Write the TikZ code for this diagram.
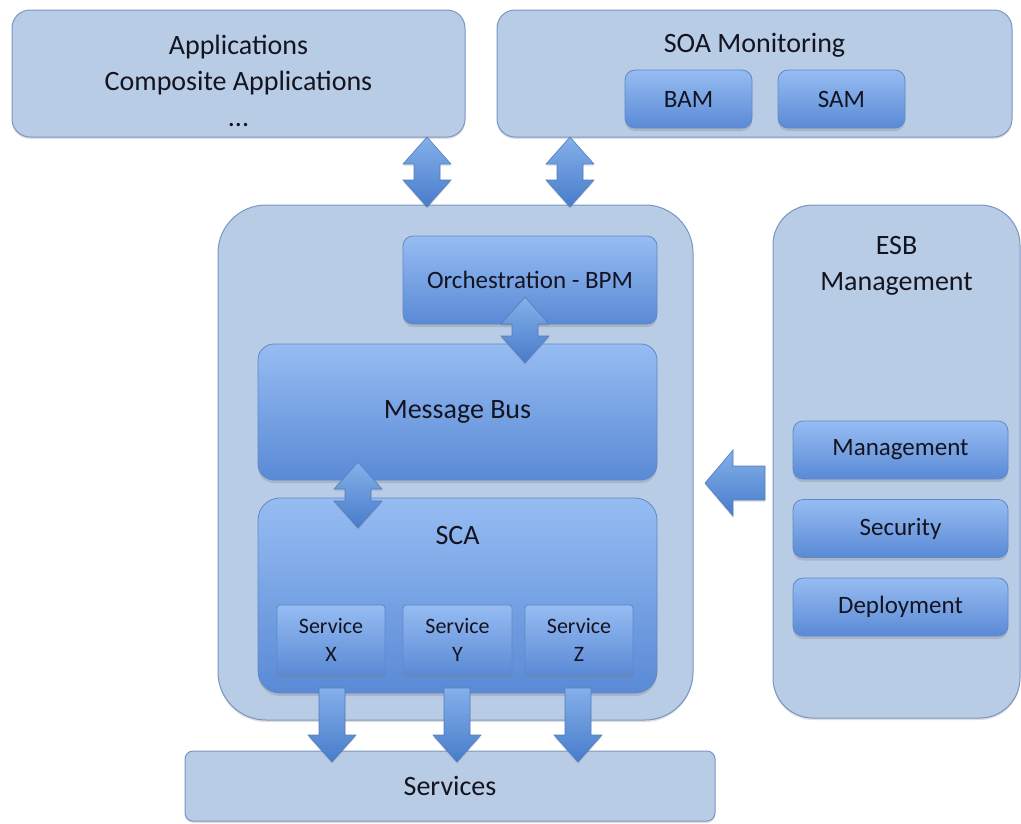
\documentclass[tikz,border=0pt]{standalone}
\usepackage{fontspec}
\setmainfont{Carlito}
\usetikzlibrary{shadows,calc}

\definecolor{PaleFill}{RGB}{184,204,230}
\definecolor{PaleEdge}{RGB}{120,150,196}
\definecolor{DeepTop}{RGB}{150,188,242}
\definecolor{DeepBot}{RGB}{90,138,214}
\definecolor{DeepEdge}{RGB}{96,136,200}
\definecolor{ArrowTop}{RGB}{132,176,234}
\definecolor{ArrowBot}{RGB}{72,124,202}
\definecolor{ArrowEdge}{RGB}{84,124,190}
\definecolor{InkText}{RGB}{20,20,32}

% double block arrow, from top tip to bottom tip
\newcommand{\VDouble}[2]{%
  \draw[BlockArrow] (#1) -- ++(24,27) -- ++(-11,0) -- ($(#2)+(13,-27)$) -- ++(11,0) -- (#2)
    -- ++(-24,-27) -- ++(11,0) -- ($(#1)+(-13,27)$) -- ++(-11,0) -- cycle;}
% single block arrow pointing down
\newcommand{\VSingle}[2]{%
  \draw[BlockArrow] ($(#1)+(-13,0)$) -- ($(#2)+(-13,-27)$) -- ++(-11,0) -- (#2)
    -- ++(24,-27) -- ++(-11,0) -- ($(#1)+(13,0)$) -- cycle;}
% single block arrow pointing left
\newcommand{\HSingle}[2]{%
  \draw[BlockArrow] ($(#1)+(0,-17)$) -- ($(#2)+(28,-17)$) -- ++(0,-16) -- (#2)
    -- ++(28,33) -- ++(0,-16) -- ($(#1)+(0,17)$) -- cycle;}

\begin{document}
\begin{tikzpicture}[x=1pt, y=-1pt, text=InkText,
  BigText/.style={font=\fontsize{28}{36}\selectfont},
  MidText/.style={font=\fontsize{25}{32}\selectfont},
  SmallText/.style={font=\fontsize{22}{28}\selectfont},
  OuterBox/.style={draw=PaleEdge, line width=1pt, fill=PaleFill, rounded corners=18pt,
    drop shadow={shadow xshift=0pt, shadow yshift=-2pt, opacity=0.25}},
  InnerBox/.style={draw=DeepEdge, line width=0.8pt, top color=DeepTop, bottom color=DeepBot,
    rounded corners=10pt, drop shadow={shadow xshift=0pt, shadow yshift=-3pt, opacity=0.3}},
  ServiceBox/.style={InnerBox, rounded corners=3pt, SmallText, align=center},
  BlockArrow/.style={draw=ArrowEdge, line width=0.6pt, top color=ArrowTop, bottom color=ArrowBot,
    drop shadow={shadow xshift=0pt, shadow yshift=-2pt, opacity=0.2}}]
\useasboundingbox (0,0) rectangle (1021,823);

% top row
\node[OuterBox, minimum width=453, minimum height=127] (apps) at (238.5,73.5) {};
\node[BigText, align=center] (appstitle) at (238.5,81) {Applications\\Composite Applications\\...};
\node[OuterBox, minimum width=515, minimum height=127] (soa) at (754.5,73.5) {};
\node[BigText] (soatitle) at (754.5,45) {SOA Monitoring};
\node[InnerBox, minimum width=127, minimum height=58, MidText] (bam) at (688.5,99) {BAM};
\node[InnerBox, minimum width=127, minimum height=58, MidText] (sam) at (841.5,99) {SAM};

% ESB core
\node[OuterBox, rounded corners=48pt, minimum width=475, minimum height=515] (core) at (455.5,462.5) {};
\node[InnerBox, minimum width=254, minimum height=88, MidText] (orch) at (530,280) {Orchestration - BPM};
\node[InnerBox, rounded corners=16pt, minimum width=399, minimum height=136, BigText] (bus) at (457.5,412) {Message Bus};
\node[InnerBox, rounded corners=22pt, minimum width=399, minimum height=195] (sca) at (457.5,595.5) {};
\node[BigText] (scatitle) at (457.5,536) {SCA};
\node[ServiceBox, minimum width=108, minimum height=70] (svcx) at (331,640) {Service\\X};
\node[ServiceBox, minimum width=109, minimum height=70] (svcy) at (457.5,640) {Service\\Y};
\node[ServiceBox, minimum width=108, minimum height=70] (svcz) at (579,640) {Service\\Z};

% ESB management
\node[OuterBox, rounded corners=40pt, minimum width=247, minimum height=513] (esb) at (896.5,461.5) {};
\node[BigText, align=center] (esbtitle) at (896.5,266) {ESB\\Management};
\foreach \name/\y/\txt in {mgmt/450/Management, secu/528.5/Security, depl/607/Deployment}
  \node[InnerBox, minimum width=215, minimum height=58, MidText] (\name) at (900.5,\y) {\txt};

% bottom
\node[OuterBox, rounded corners=8pt, minimum width=530, minimum height=70, BigText] (services) at (450,786) {Services};

% arrows
\coordinate (a1t) at (427,137);  \coordinate (a1b) at (427,207);
\coordinate (a2t) at (570,137);  \coordinate (a2b) at (570,207);
\coordinate (a3t) at (525,297);  \coordinate (a3b) at (525,363);
\coordinate (a4t) at (358,462);  \coordinate (a4b) at (358,528);
\VDouble{a1t}{a1b}
\VDouble{a2t}{a2b}
\VDouble{a3t}{a3b}
\VDouble{a4t}{a4b}
\foreach \x [count=\i] in {332,457,578} {
  \coordinate (d\i t) at (\x,688);
  \coordinate (d\i b) at (\x,762);
  \VSingle{d\i t}{d\i b}
}
\coordinate (lt) at (765,483);  \coordinate (lh) at (705,483);
\HSingle{lt}{lh}

\end{tikzpicture}
\end{document}
